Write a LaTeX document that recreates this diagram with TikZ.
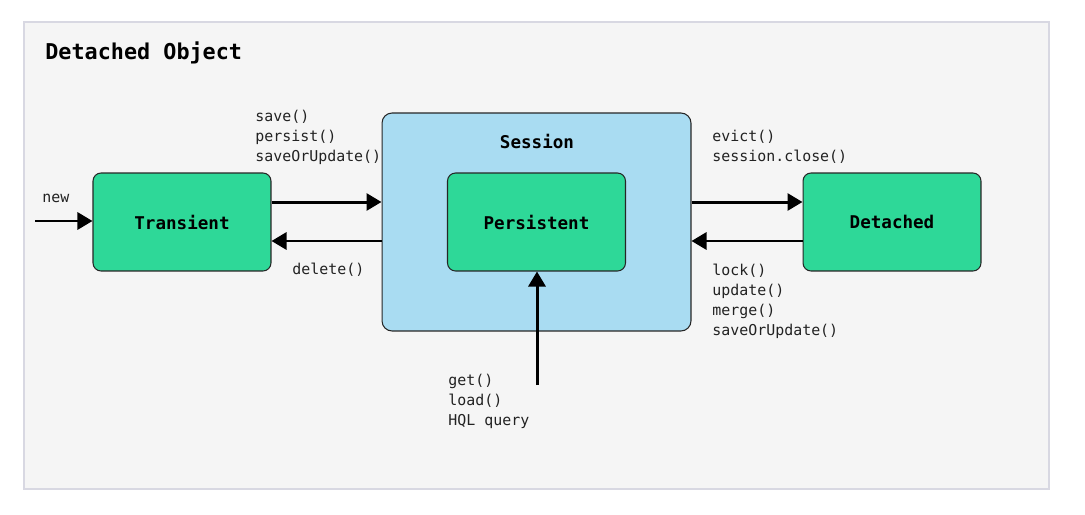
\documentclass[tikz,border=0pt]{standalone}
\usepackage{fontspec}
\setmainfont{DejaVu Sans Mono}
\usepackage{xcolor}
\usepackage{tikz}
\usetikzlibrary{arrows.meta,positioning,calc}
\definecolor{stategreen}{HTML}{2ED898}
\definecolor{sessionblue}{HTML}{A9DCF2}
\definecolor{panelgray}{HTML}{F5F5F5}
\definecolor{panelline}{HTML}{D8D8E2}
\definecolor{labelgray}{HTML}{222222}

\begin{document}
\begin{tikzpicture}[x=0.02cm, y=-0.02cm,
  state/.style={rectangle, draw=black!85, line width=0.6pt, fill=stategreen,
                rounded corners=0.16cm, minimum width=3.56cm, minimum height=1.96cm,
                inner sep=0pt, font=\fontsize{10}{12}\selectfont\bfseries},
  sessbox/.style={rectangle, draw=black!85, line width=0.6pt, fill=sessionblue,
                  rounded corners=0.2cm, minimum width=6.18cm, minimum height=4.36cm,
                  inner sep=0pt},
  call/.style={anchor=west, inner sep=0pt, align=left, text=labelgray,
               font=\fontsize{8.5}{11.4}\selectfont},
  flow/.style={-{Triangle[length=0.3cm,width=0.34cm]}, line width=1.7pt},
]
\useasboundingbox (0,0) rectangle (1085,514);
\draw[fill=panelgray, draw=panelline, line width=0.6pt] (24,22) rectangle (1049,489);
\node[anchor=base west, inner sep=0pt, font=\fontsize{12.4}{14}\selectfont\bfseries] (title) at (45,59) {Detached Object};

\node[sessbox] (sess) at (536.5,222) {};
\node[font=\fontsize{10}{12}\selectfont\bfseries] (sesslbl) at (537,141) {Session};
\node[state] (trans) at (182,222) {Transient};
\node[state] (pers)  at (536.5,222) {Persistent};
\node[state] (det)   at (892,222) {Detached};

\coordinate (start) at (35,221);
\coordinate (query) at (537,385);

\draw[flow] (start) -- (trans.west |- start);
\draw[flow] ([yshift=0.4cm]trans.east) -- ([yshift=0.4cm]trans.east -| sess.west);
\draw[flow] ([yshift=-0.38cm]trans.east -| sess.west) -- ([yshift=-0.38cm]trans.east);
\draw[flow] ([yshift=0.4cm]sess.east |- det.west) -- ([yshift=0.4cm]det.west);
\draw[flow] ([yshift=-0.38cm]det.west) -- ([yshift=-0.38cm]sess.east |- det.west);
\draw[flow] (query) -- (query |- pers.south);

\node[call] (newlbl) at (42,198) {new};
\node[call] (savelbl) at (255,137) {save()\\persist()\\saveOrUpdate()};
\node[call] (dellbl) at (292,270) {delete()};
\node[call] (evictlbl) at (712,147) {evict()\\session.close()};
\node[call] (locklbl) at (712,301) {lock()\\update()\\merge()\\saveOrUpdate()};
\node[call] (getlbl) at (448,401) {get()\\load()\\HQL query};
\end{tikzpicture}
\end{document}
